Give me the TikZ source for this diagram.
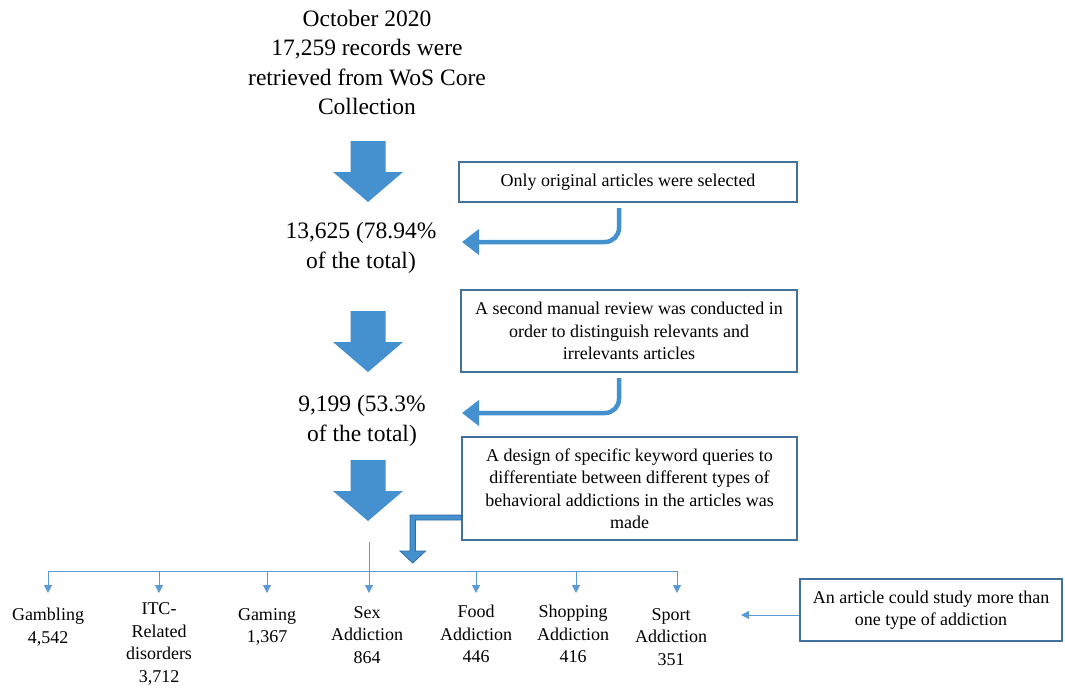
\documentclass[tikz,border=0pt]{standalone}
\usepackage{fontspec}
\setmainfont{Liberation Serif}
\usetikzlibrary{arrows.meta}
\definecolor{arrowblue}{HTML}{4590CF}
\definecolor{boxblue}{HTML}{41719C}
\definecolor{lineblue}{HTML}{5B9BD5}
\definecolor{darkblue}{HTML}{2F6AA5}
\tikzset{
  bigtext/.style={align=center, font=\fontsize{23.5}{29.5}\selectfont, inner sep=0pt},
  infobox/.style={draw=boxblue, line width=1.2pt, align=center, font=\fontsize{18}{22.5}\selectfont, inner sep=0pt},
  lbl/.style={align=center, font=\fontsize{18}{22.5}\selectfont, inner sep=0pt},
  elbow/.style={draw=arrowblue, line width=4.5pt, rounded corners=14pt, -{Triangle[width=25pt,length=17pt]}},
  treeline/.style={draw=lineblue, line width=1pt},
  treearrow/.style={draw=lineblue, line width=1pt, -{Triangle[width=8pt,length=8pt]}},
  pics/bigarrow/.style={code={
    \fill[arrowblue] (-17.5,0) -- (17.5,0) -- (17.5,31) -- (35,31) -- (0,61) -- (-35,31) -- (-17.5,31) -- cycle;}}
}
\begin{document}
\begin{tikzpicture}[x=1pt,y=-1pt]
\useasboundingbox (0,0) rectangle (1065,688);

% main column texts
\node[bigtext] (start) at (367,62.5) {October 2020\\17,259 records were\\retrieved from WoS Core\\Collection};
\node[bigtext] (step1) at (361,248) {13,625 (78.94\%\\of the total)};
\node[bigtext] (step2) at (362,421) {9,199 (53.3\%\\of the total)};

% big block arrows
\pic at (368,141) {bigarrow};
\pic at (368,311) {bigarrow};
\pic at (368,460) {bigarrow};

% info boxes
\node[infobox, minimum width=338pt, minimum height=40pt] (box1) at (628,182) {Only original articles were selected};
\node[infobox, minimum width=336pt, minimum height=82pt] (box2) at (629,331) {A second manual review was conducted in\\order to distinguish relevants and\\irrelevants articles};
\node[infobox, minimum width=335pt, minimum height=103pt] (box3) at (629.5,488.5) {A design of specific keyword queries to\\differentiate between different types of\\behavioral addictions in the articles was\\made};
\node[infobox, minimum width=262pt, minimum height=62pt] (box4) at (931,610) {An article could study more than\\one type of addiction};

% elbow arrows
\coordinate (e1s) at (619,208);
\coordinate (e1t) at (462,242);
\draw[elbow] (e1s) |- (e1t);
\coordinate (e2s) at (619,378);
\coordinate (e2t) at (462,413);
\draw[elbow] (e2s) |- (e2t);

% bent arrow from box3
\filldraw[fill=arrowblue, draw=darkblue, line width=0.8pt]
  (box3.west |- 0,515) -- (410,515) -- (410,551) -- (400,551) -- (412.75,563)
  -- (425.5,551) -- (415.5,551) -- (415.5,520) -- (box3.west |- 0,520) -- cycle;

% tree
\coordinate (stem) at (369,542);
\coordinate (hub) at (369,571);
\coordinate (tips) at (0,593);
\coordinate (b1) at (48,571);
\coordinate (b2) at (159,571);
\coordinate (b3) at (267,571);
\coordinate (b4) at (369,571);
\coordinate (b5) at (476,571);
\coordinate (b6) at (576,571);
\coordinate (b7) at (677,571);
\draw[treeline] (stem) -- (hub);
\draw[treeline] (b1) -- (b7);
\foreach \b in {b1,b2,b3,b4,b5,b6,b7}{
  \draw[treearrow] (\b) -- (\b |- tips);
}

% bottom labels
\node[lbl] (gamb) at (48,627) {Gambling\\4,542};
\node[lbl] (itc) at (159,644) {ITC-\\Related\\disorders\\3,712};
\node[lbl] (gami) at (267,627) {Gaming\\1,367};
\node[lbl] (sex) at (367,635) {Sex\\Addiction\\864};
\node[lbl] (food) at (476,634) {Food\\Addiction\\446};
\node[lbl] (shop) at (573,634) {Shopping\\Addiction\\416};
\node[lbl] (sport) at (671,637) {Sport\\Addiction\\351};

% note arrow
\coordinate (notetip) at (741,615);
\draw[treearrow] (box4.west |- notetip) -- (notetip);
\end{tikzpicture}
\end{document}
